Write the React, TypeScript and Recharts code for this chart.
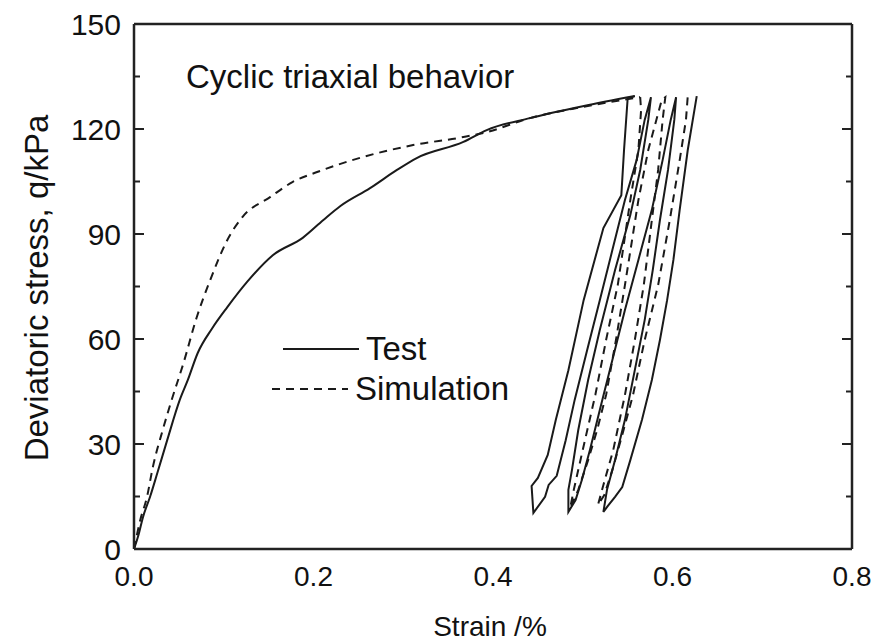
import React from "react";
import { Label, Legend, Line, LineChart, XAxis, YAxis } from "recharts";

// Test curve: monotonic loading, then three unload/reload cycles
const testLoading = [
  [0, 0], [0.005, 4], [0.01, 9.1], [0.018, 15], [0.026, 21.7], [0.037, 31.1],
  [0.051, 42.6], [0.06, 48.3], [0.071, 56], [0.087, 63], [0.104, 69.1],
  [0.126, 76.3], [0.155, 84], [0.188, 88.9], [0.211, 94], [0.23, 98],
  [0.263, 103.1], [0.293, 108.3], [0.315, 111.7], [0.367, 116.3],
  [0.393, 119.7], [0.441, 123.1], [0.5, 126.5], [0.558, 129.4],
];
const testUnload1 = [
  [0.558, 129.4], [0.55, 128.6], [0.546, 114], [0.543, 101.1], [0.523, 91.7], [0.501, 71.1],
  [0.484, 51.1], [0.47, 36.9], [0.461, 26.9], [0.45, 20.3], [0.443, 18], [0.445, 10.3],
];
const testReload1 = [
  [0.458, 14.9], [0.462, 18.3], [0.471, 20.9], [0.481, 31.1], [0.491, 42.6],
  [0.505, 56.9], [0.519, 71.1], [0.533, 85.4], [0.547, 99.7], [0.56, 111.1],
  [0.569, 122.6], [0.576, 129.1],
];
const testUnload2 = [
  [0.573, 122.6], [0.564, 108.3], [0.553, 95.4], [0.536, 79.7], [0.519, 62.6],
  [0.506, 48.3], [0.495, 34], [0.488, 22.6], [0.484, 16.9], [0.484, 10.6],
];
const testReload2 = [
  [0.492, 14], [0.499, 19.7], [0.508, 28.3], [0.519, 39.7], [0.533, 54],
  [0.547, 68.3], [0.562, 82.6], [0.577, 96.9], [0.589, 111.1], [0.598, 122.6],
  [0.604, 129.1],
];
const testUnload3 = [
  [0.602, 122.6], [0.595, 108.3], [0.586, 94], [0.578, 79.7], [0.569, 65.4],
  [0.558, 51.1], [0.547, 36.9], [0.536, 25.4], [0.527, 16.9], [0.523, 10.6],
];
const testReload3 = [
  [0.528, 12.3], [0.536, 14.9], [0.544, 17.7], [0.553, 25.4], [0.566, 36.9],
  [0.577, 48.3], [0.586, 59.7], [0.594, 71.1], [0.601, 82.6], [0.608, 96.9],
  [0.617, 114], [0.627, 129.4],
];

// Simulation curve
const simLoading = [
  [0, 0], [0.007, 8.3], [0.0145, 14.9], [0.021, 23.4], [0.032, 34], [0.042, 42.6],
  [0.055, 53], [0.07, 66.3], [0.085, 76.9], [0.104, 88.3], [0.121, 94.9],
  [0.152, 100.6], [0.177, 104.9], [0.204, 107.7], [0.255, 112], [0.311, 115.4],
  [0.367, 117.7], [0.393, 119.1], [0.441, 123.1], [0.5, 126.3], [0.564, 129.1],
];
const simUnload1 = [
  [0.564, 129.1], [0.565, 125.4], [0.562, 114], [0.553, 99.7], [0.539, 75.4], [0.526, 59.7],
  [0.514, 44], [0.5, 28.3], [0.49, 16.9], [0.486, 11.7],
];
const simReload1 = [
  [0.495, 16.9], [0.506, 25.4], [0.516, 34], [0.526, 44], [0.537, 59.7],
  [0.547, 75.4], [0.562, 99.7], [0.573, 114], [0.588, 128.3], [0.592, 129.1],
];
const simUnload2 = [
  [0.589, 122.6], [0.584, 108.3], [0.577, 94], [0.568, 75.4], [0.558, 59.7],
  [0.547, 44], [0.534, 28.3], [0.523, 18.3], [0.517, 12.6],
];
const simReload2 = [
  [0.524, 15.4], [0.533, 22.6], [0.544, 32.6], [0.556, 44], [0.569, 59.7],
  [0.584, 75.4], [0.597, 94], [0.608, 111.1], [0.615, 122.6], [0.617, 129.4],
];

const strainTicks = [0, 0.2, 0.4, 0.6, 0.8];
const strainMinor = [0.1, 0.3, 0.5, 0.7];
const stressTicks = [0, 30, 60, 90, 120, 150];
const stressMinor = [15, 45, 75, 105, 135];

const toPoints = (...parts: number[][][]) =>
  parts.flat().map(([x, y]) => ({ x, y }));

const testLoad = toPoints(testLoading);
const testCycles = toPoints(
  testUnload1, testReload1, testUnload2, testReload2, testUnload3, testReload3
);
const simLoad = toPoints(simLoading);
const simCycles = toPoints(simUnload1, simReload1, simUnload2, simReload2);

const INK = "#1a1a1a";
const AXIS = "#222";
const FONT = "'Liberation Sans', Arial, sans-serif";
const DASH = "8 6";
const noLabel = () => <g />;
const tickStroke = { stroke: AXIS, strokeWidth: 2 };
const frameStroke = { stroke: AXIS, strokeWidth: 2.5 };

const renderLegend = (props: any) => {
  const items = (props.payload || []).filter(
    (it: any) => it.value === "Test" || it.value === "Simulation"
  );
  return (
    <svg width={260} height={80} style={{ display: "block", overflow: "visible" }}>
      {items.map((item: any) => {
        const isTest = item.value === "Test";
        const y = isTest ? 24 : 64;
        const x0 = isTest ? 13 : 2;
        return (
          <g key={item.value}>
            <line
              x1={x0}
              x2={x0 + 76}
              y1={y}
              y2={y}
              stroke={INK}
              strokeWidth={2}
              strokeDasharray={isTest ? undefined : DASH}
            />
            <text x={x0 + 83} y={y + 11} fontSize={33} fontFamily={FONT} fill="#111">
              {item.value}
            </text>
          </g>
        );
      })}
    </svg>
  );
};

const App: React.FC = () => {
  return (
    <div style={{ width: 878, height: 643, overflow: "hidden" }}>
      <style>{"body{margin:0;overflow:hidden}"}</style>
      <LineChart width={878} height={643} margin={{ top: 24, right: 26, bottom: 0, left: 0 }}>
        <XAxis
          xAxisId="x"
          dataKey="x"
          type="number"
          domain={[0, 0.8]}
          allowDataOverflow
          ticks={strainTicks}
          tickFormatter={(v: number) => v.toFixed(1)}
          height={94}
          tickSize={0}
          tickMargin={17}
          axisLine={false}
          tickLine={false}
          tick={{ fontSize: 28, fill: "#111", fontFamily: FONT }}
        >
          <Label
            content={(p: any) => {
              const vb = p.viewBox;
              return (
                <text
                  x={vb.x + vb.width / 2 - 3}
                  y={vb.y + 87}
                  textAnchor="middle"
                  fontSize={28}
                  fontFamily={FONT}
                  fill="#111"
                >
                  Strain /%
                </text>
              );
            }}
          />
        </XAxis>
        <XAxis xAxisId="xMaj" type="number" domain={[0, 0.8]} allowDataOverflow ticks={strainTicks}
          interval={0} orientation="bottom" mirror height={1} tickSize={10} tick={noLabel}
          axisLine={frameStroke} tickLine={tickStroke} />
        <XAxis xAxisId="xMin" type="number" domain={[0, 0.8]} allowDataOverflow ticks={strainMinor}
          interval={0} orientation="bottom" mirror height={1} tickSize={5} tick={noLabel}
          axisLine={false} tickLine={tickStroke} />
        <XAxis xAxisId="xTopMaj" type="number" domain={[0, 0.8]} allowDataOverflow ticks={strainTicks}
          interval={0} orientation="top" mirror height={1} tickSize={10} tick={noLabel}
          axisLine={frameStroke} tickLine={tickStroke} />
        <XAxis xAxisId="xTopMin" type="number" domain={[0, 0.8]} allowDataOverflow ticks={strainMinor}
          interval={0} orientation="top" mirror height={1} tickSize={5} tick={noLabel}
          axisLine={false} tickLine={tickStroke} />

        <YAxis
          yAxisId="y"
          type="number"
          domain={[0, 150]}
          allowDataOverflow
          ticks={stressTicks}
          width={134}
          tickSize={0}
          tickMargin={13}
          axisLine={false}
          tickLine={false}
          tick={{ fontSize: 30, fill: "#111", fontFamily: FONT }}
        >
          <Label
            content={(p: any) => {
              const vb = p.viewBox;
              const cx = vb.x + 48;
              const cy = vb.y + 264;
              return (
                <text
                  transform={`translate(${cx},${cy}) rotate(-90)`}
                  textAnchor="middle"
                  fontSize={33}
                  fontFamily={FONT}
                  fill="#111"
                >
                  Deviatoric stress, q/kPa
                </text>
              );
            }}
          />
        </YAxis>
        <YAxis yAxisId="yMaj" type="number" domain={[0, 150]} allowDataOverflow ticks={stressTicks}
          interval={0} orientation="left" mirror width={1} tickSize={10} tick={noLabel}
          axisLine={frameStroke} tickLine={tickStroke} />
        <YAxis yAxisId="yMin" type="number" domain={[0, 150]} allowDataOverflow ticks={stressMinor}
          interval={0} orientation="left" mirror width={1} tickSize={5} tick={noLabel}
          axisLine={false} tickLine={tickStroke} />
        <YAxis yAxisId="yRMaj" type="number" domain={[0, 150]} allowDataOverflow ticks={stressTicks}
          interval={0} orientation="right" mirror width={1} tickSize={10} tick={noLabel}
          axisLine={frameStroke} tickLine={tickStroke} />
        <YAxis yAxisId="yRMin" type="number" domain={[0, 150]} allowDataOverflow ticks={stressMinor}
          interval={0} orientation="right" mirror width={1} tickSize={5} tick={noLabel}
          axisLine={false} tickLine={tickStroke} />

        <Line xAxisId="x" yAxisId="y" data={testLoad} dataKey="y" name="Test" type="monotone"
          stroke={INK} strokeWidth={2} dot={false} isAnimationActive={false} />
        <Line xAxisId="x" yAxisId="y" data={testCycles} dataKey="y" name="Test cycles" type="linear"
          stroke={INK} strokeWidth={2} dot={false} legendType="none" isAnimationActive={false} />
        <Line xAxisId="x" yAxisId="y" data={simLoad} dataKey="y" name="Simulation" type="monotone"
          stroke={INK} strokeWidth={2} strokeDasharray={DASH} dot={false} isAnimationActive={false} />
        <Line xAxisId="x" yAxisId="y" data={simCycles} dataKey="y" name="Simulation cycles" type="linear"
          stroke={INK} strokeWidth={2} strokeDasharray={DASH} dot={false} legendType="none"
          isAnimationActive={false} />

        <Legend
          content={renderLegend}
          layout="horizontal"
          verticalAlign="middle"
          align="center"
          wrapperStyle={{ left: 270, top: 325, width: 260, height: 80 }}
        />

        <text x={186} y={88} fontSize={33} fontFamily={FONT} fill="#111">
          Cyclic triaxial behavior
        </text>
      </LineChart>
    </div>
  );
};

export default App;
